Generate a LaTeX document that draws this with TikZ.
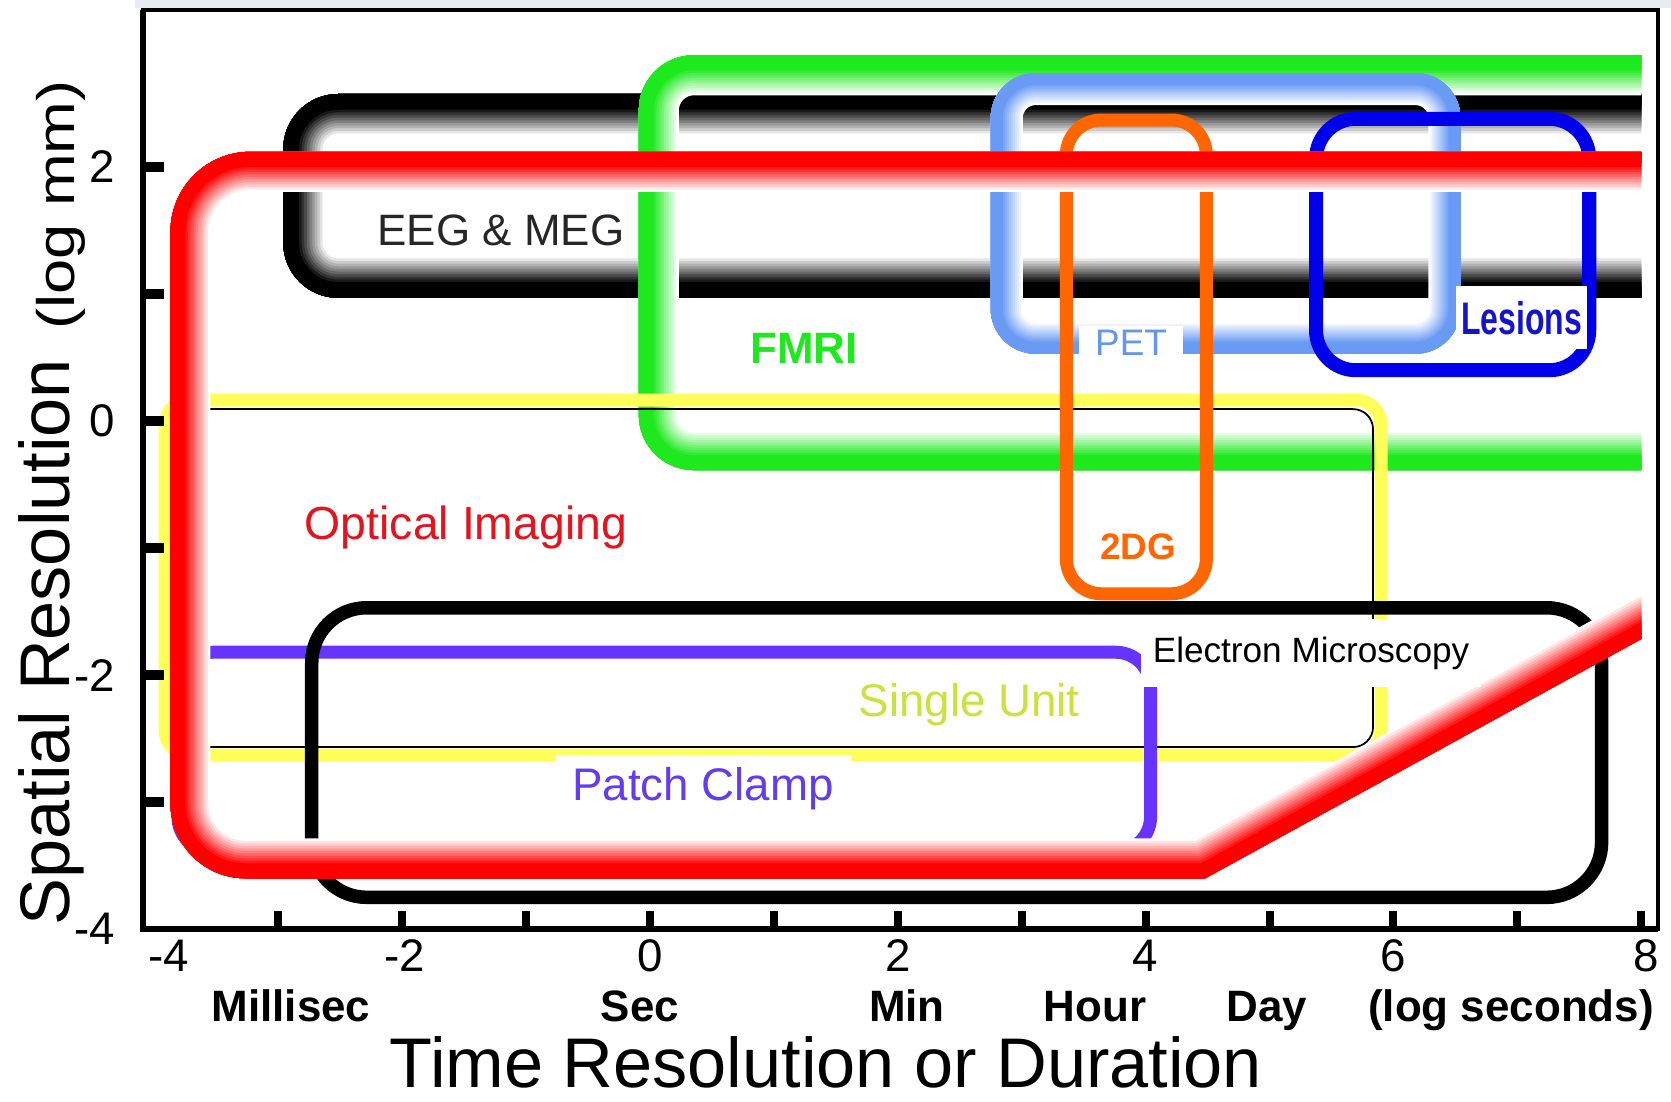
\documentclass[tikz,border=0pt]{standalone}
\usepackage{fontspec}
\setmainfont{Liberation Sans}
\usepackage{graphicx}
\usepackage{tikz}
\usetikzlibrary{calc}
\definecolor{fmrigreen}{RGB}{30,232,30}
\definecolor{petblue}{RGB}{105,155,245}
\definecolor{petlabel}{RGB}{100,150,235}
\definecolor{optred}{RGB}{255,0,0}
\definecolor{optlabel}{RGB}{228,20,30}
\definecolor{unitlemon}{RGB}{255,255,90}
\definecolor{singlelabel}{RGB}{205,225,60}
\definecolor{patchpurple}{RGB}{102,51,255}
\definecolor{patchlabel}{RGB}{100,60,240}
\definecolor{dgorange}{RGB}{255,102,0}
\definecolor{lesionblue}{RGB}{0,0,235}
\definecolor{lesionlabel}{RGB}{20,20,205}
\definecolor{eegtext}{RGB}{38,38,38}
\definecolor{topgray}{RGB}{233,236,240}
\newcommand{\fsize}[1]{\fontsize{#1}{#1}\selectfont}
% a band that is coloured on its outer edge and fades to white inside
% #1 colour, #2 band width, #3 outer outline
\newcommand{\tube}[3]{%
  \begin{scope}
    \clip #3;
    \foreach \i in {0,...,15}{
      \pgfmathsetmacro{\lw}{2*#2*(16-\i)/16}
      \pgfmathtruncatemacro{\pc}{min(100,10*\i)}
      \draw[#1!\pc!white, line width=\lw pt] #3;
    }
  \end{scope}}
\tikzstyle{plotframe} = [line width=0.045cm]
\tikzstyle{plotaxis} = [line width=0.065cm]
\tikzstyle{ytickmark} = [line width=0.095cm]
\tikzstyle{xtickmark} = [line width=0.08cm]
\tikzstyle{method} = [line width=0.13cm, rounded corners=0.35cm]
\tikzstyle{mlabel} = [inner sep=0pt, anchor=base]
\tikzstyle{boxlbl} = [fill=white, anchor=base]
\tikzstyle{ticklbl} = [inner sep=0pt, anchor=base, font=\fsize{13}]
\tikzstyle{yticklbl} = [inner sep=0pt, anchor=east, font=\fsize{13}]
\tikzstyle{unitlbl} = [inner sep=0pt, anchor=base, font=\bfseries\fsize{12.5}]
\tikzstyle{axtitle} = [inner sep=0pt, anchor=base, font=\fsize{20}]
\begin{document}
\begin{tikzpicture}[x=1.239cm, y=1.27cm]
  % page, data coordinates: x in log seconds, y in log mm
  \useasboundingbox (-5.246,-5.354) rectangle (8.240,3.315);
  \fill[white] (-5.246,-5.354) rectangle (8.240,3.315);
  \fill[topgray] (-4.157,3.252) rectangle (8.240,3.315);

  % the methods, clipped to the plot area
  \begin{scope}
    \clip (-4.09,-4) rectangle (8,3.236);
    \tube{black}{0.42cm}{[rounded corners=0.55cm] (-2.96,0.97) rectangle (9,2.575)}
    \tube{fmrigreen}{0.40cm}{[rounded corners=0.55cm] (-0.09,-0.386) rectangle (9,2.88)}
    \tube{petblue}{0.32cm}{[rounded corners=0.45cm] (2.75,0.53) rectangle (6.54,2.74)}
    % single unit: yellow band with a thin black line inside
    \draw[method, unitlemon, rounded corners=0.25cm] (-3.914,-2.63) rectangle (5.90,0.165);
    \draw[line width=0.5pt, rounded corners=0.2cm] (-3.85,-2.567) rectangle (5.835,0.094);
    \draw[method, patchpurple] (-3.81,-3.39) rectangle (4.04,-1.82);
    \draw[method, line width=0.135cm, rounded corners=0.55cm] (-2.73,-3.75) rectangle (7.68,-1.47);
    \draw[method, dgorange] (3.36,-1.36) rectangle (4.49,2.37);
    \draw[method, lesionblue, line width=0.14cm, rounded corners=0.4cm] (5.375,0.40) rectangle (7.58,2.38);
    % optical imaging: sharp bend where the band turns up
    \tube{optred}{0.40cm}{(9,2.12) -- ($(-3.87,2.12)+(0.8cm,0)$)
      arc[start angle=90, end angle=180, radius=0.8cm] -- ($(-3.87,-3.60)+(0,0.75cm)$)
      arc[start angle=180, end angle=270, radius=0.75cm] -- (4.48,-3.60) -- (9,-1.18) -- cycle}
  \end{scope}

  % frame and ticks
  \draw[plotframe] (-4.09,-4) rectangle (8.135,3.236);
  \draw[plotaxis] (-4.09,3.236) -- (-4.09,-4) -- (8.135,-4);
  \foreach \s in {-3,...,2}
    \draw[ytickmark] (-4.09,\s) -- ++(0.165,0);
  \foreach \t in {-3,...,8}
    \draw[xtickmark] (\t,-4) -- ++(0,0.14);

  % method labels
  \node[mlabel, eegtext, font=\fsize{12.5}] (eeg) at (-1.203,1.386) {EEG \& MEG};
  \node[mlabel, fmrigreen, font=\bfseries\fsize{12.5}] (fmri) at (1.243,0.457) {FMRI};
  \node[boxlbl, text=petlabel, font=\fsize{10.5}, inner xsep=0.16cm, inner ysep=0.04cm] (pet) at (3.882,0.52) {PET};
  \node[boxlbl, text=lesionlabel, font=\bfseries\fsize{13}, inner xsep=0.05cm, inner ysep=0.15cm] (lesions) at (7.034,0.685) {\scalebox{0.7}[1]{Lesions}};
  \node[mlabel, dgorange, font=\bfseries\fsize{10.5}] (dg) at (3.939,-1.094) {2DG};
  \node[mlabel, optlabel, font=\fsize{13.2}] (optical) at (-1.485,-0.929) {Optical Imaging};
  \node[boxlbl, font=\fsize{10}, inner xsep=0.115cm, inner ysep=0.18cm] (em) at (5.335,-1.898) {Electron Microscopy};
  \node[mlabel, singlelabel, font=\fsize{13}] (single) at (2.575,-2.323) {Single Unit};
  \node[boxlbl, text=patchlabel, font=\fsize{13}, inner xsep=0.175cm, inner ysep=0.12cm] (patch) at (0.428,-2.984) {Patch Clamp};

  % axis labels
  \foreach \t/\txt [count=\k] in {-3.882/-4, -1.977/-2, 0/0, 2/2, 4/4, 6/6, 8.04/8}
    \node[ticklbl] (xl\k) at (\t,-4.33) {\txt};
  \foreach \s [count=\k] in {2,0,-2,-4}
    \node[yticklbl] (yl\k) at (-4.31,\s) {\s};
  \node[unitlbl] (msec) at (-2.898,-4.724) {Millisec};
  \node[unitlbl] (sec) at (-0.081,-4.724) {Sec};
  \node[unitlbl] (min) at (2.074,-4.724) {Min};
  \node[unitlbl] (hour) at (3.592,-4.724) {Hour};
  \node[unitlbl] (day) at (4.98,-4.724) {Day};
  \node[unitlbl] (logsec) at (6.949,-4.724) {(log seconds)};
  \node[axtitle] (xtitle) at (1.42,-5.25) {Time Resolution or Duration};
  \node[axtitle, rotate=90] (ytitle) at (-4.681,-1.74) {Spatial Resolution};
  \node[mlabel, rotate=90, font=\fsize{15}] (yunit) at (-4.641,1.70) {\scalebox{1.2}[1]{(log mm)}};
\end{tikzpicture}
\end{document}
